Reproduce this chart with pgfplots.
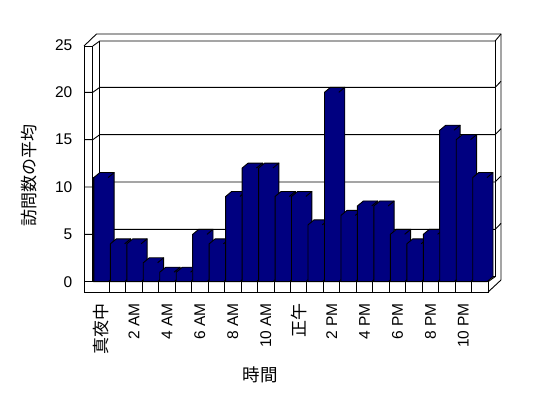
\documentclass[border=0pt]{standalone}
\usepackage{pgfplots}
\pgfplotsset{compat=1.18}
\usepackage{pgfplotstable}
\usepackage{fontspec}
\setmainfont{Liberation Sans}
\newfontfamily\jp{Noto Sans CJK JP}
\definecolor{barnavy}{RGB}{0,0,128}
\pgfdeclareplotmark{nothing}{}

\pgfplotstableread{
h v
0 11
1 4
2 4
3 2
4 1
5 1
6 5
7 4
8 9
9 12
10 12
11 9
12 9
13 6
14 20
15 7
16 8
17 8
18 5
19 4
20 5
21 16
22 15
23 11
}\visits

\begin{document}
\begin{tikzpicture}[x=1pt,y=1pt]
% walls and floor (y in pt = 398 - pixel row)
\begin{scope}[line width=0.9pt, line join=miter]
  \draw (84,106) -- (84,352) -- (92.8,352) -- (92.8,116.3);
  \draw (84,352) -- (96.5,364) -- (501,364) -- (501,118);
  \draw (92.8,352) -- (99.8,357) -- (495.1,357) -- (501,364);
  \draw (99.8,357) -- (99.8,121.3);
  \draw (495.1,357) -- (495.1,121.3);
  \draw (92.8,116.3) -- (99.8,121.3) -- (495.1,121.3);
  \foreach \v in {5,10,15,20} {
    \pgfmathsetmacro\yf{116.3+\v*9.468}
    \pgfmathsetmacro\yb{\yf+5}
    \pgfmathsetmacro\yo{\yb+6}
    \draw (84,\yf) -- (92.8,\yf) -- (99.8,\yb) -- (495.1,\yb) -- (501,\yo);
  }
  \draw (84,106) rectangle (488.1,116.3);
  \foreach \k in {1,...,23} {
    \pgfmathsetmacro\xk{92.8+16.47*\k}
    \draw (\xk,106) -- (\xk,116.3);
  }
  \draw (488.1,106) -- (501,118);
  \draw (488.1,116.3) -- (495.1,121.3);
\end{scope}

\begin{axis}[
  scale only axis,
  width=395.3pt, height=236.7pt,
  at={(92.8pt,116.3pt)}, anchor=south west,
  xmin=-0.5, xmax=23.5, ymin=0, ymax=25,
  clip=false,
  axis line style={draw=none},
  major tick length=0pt,
  /pgf/number format/assume math mode=true,
  ytick={0,5,10,15,20,25},
  yticklabel style={font=\fontsize{15.5}{18}\selectfont, inner sep=0pt, anchor=east, xshift=-20.3pt},
  xtick={0,2,...,22},
  xticklabels={{\fontsize{17}{19}\selectfont\jp 真夜中},2 AM,4 AM,6 AM,8 AM,10 AM,{\fontsize{17}{19}\selectfont\jp 正午},2 PM,4 PM,6 PM,8 PM,10 PM},
  xticklabel style={font=\fontsize{15.5}{18}\selectfont, rotate=90, anchor=east, inner sep=0pt},
  xticklabel shift=21.3pt,
  xlabel={\jp 時間},
  ylabel={\jp 訪問数の平均},
  xlabel style={at={(axis description cs:0.423,-0.394)}, anchor=center, font=\fontsize{17.5}{20}\selectfont},
  ylabel style={at={(axis description cs:-0.1614,0.4466)}, anchor=center, font=\fontsize{17}{20}\selectfont},
]
% depth faces (side + top) of each bar
\addplot[
  scatter, only marks, mark=nothing,
  visualization depends on={\thisrow{v} \as \val},
  scatter/@pre marker code/.code={%
    \pgfmathsetmacro\hb{-\val*9.468}%
    \pgfmathsetmacro\hbd{\hb+5}%
    \filldraw[fill=barnavy, draw=black, line width=0.9pt, line join=miter]
      (-7.15pt,\hb pt) -- (7.15pt,\hb pt) -- (13.15pt,\hbd pt) -- (13.15pt,5pt)
      -- (-1.15pt,5pt) -- (-7.15pt,0pt) -- cycle;
    \draw[black, line width=0.9pt] (7.15pt,0pt) -- (13.15pt,5pt);
  },
  scatter/@post marker code/.code={},
] table[x=h, y=v] {\visits};
% front faces
\addplot[ybar, bar width=14.3pt, fill=barnavy, draw=black, line width=0.9pt]
  table[x=h, y=v] {\visits};
\end{axis}
\pgfresetboundingbox
\useasboundingbox (0,0) rectangle (548,398);
\end{tikzpicture}
\end{document}
